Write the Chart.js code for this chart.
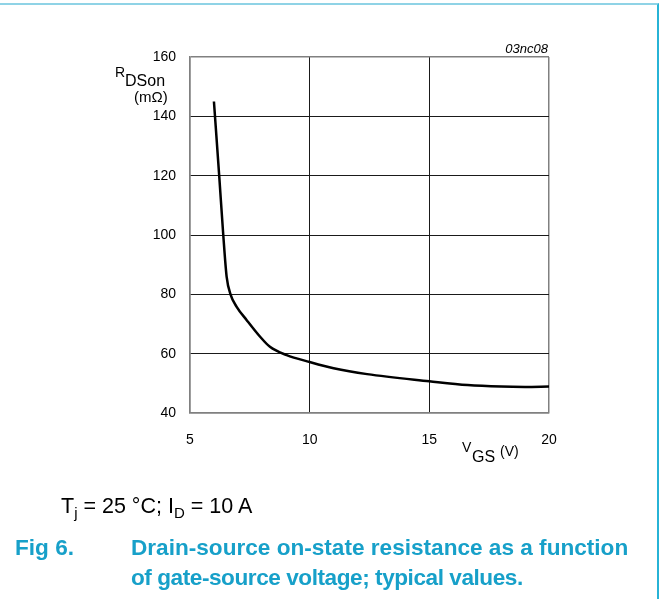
<!DOCTYPE html>
<html>
<head>
<meta charset="utf-8">
<script src="https://cdn.jsdelivr.net/npm/chart.js@4.4.1/dist/chart.umd.min.js"></script>
<style>
    html, body { margin: 0; padding: 0; background: #fff; }
    #page { position: relative; width: 662px; height: 599px; overflow: hidden; font-family: Arial, "Liberation Sans", sans-serif; }
    #frame { position: absolute; left: 0; top: 3px; width: 657px; height: 600px; border-top: 2px solid #8fd3e6; border-right: 2px solid #27b3d6; }
    #chart { position: absolute; left: 0; top: 0; }
    .cond { position: absolute; left: 61px; top: 494px; font-size: 21.5px; color: #000; white-space: nowrap; }
    .cond sub { font-size: 15px; vertical-align: -5px; line-height: 0; }
    .fig { position: absolute; font-size: 22.6px; font-weight: bold; color: #17a0c9; white-space: nowrap; line-height: 30px; }
</style>
</head>
<body>
<div id="page">
    <div id="frame"></div>
    <canvas id="chart" width="662" height="599"></canvas>
    <div class="cond">T<sub>j</sub> = 25 °C; I<sub>D</sub> = 10 A</div>
    <div class="fig" style="left:15px; top:533px">Fig 6.</div>
    <div class="fig" style="left:131px; top:533px">Drain-source on-state resistance as a function</div>
    <div class="fig" style="left:131px; top:563px; letter-spacing:-0.45px">of gate-source voltage; typical values.</div>
</div>
<script>
// Rdson en fonction de Vgs (valeurs typiques)
const vgsValues = [6.0, 6.22, 6.39, 6.53, 6.7, 6.95, 7.37, 7.93, 8.34, 9.04, 10, 11, 12.4, 15, 16.6, 18, 19, 20];
const rdsValues = [145, 120, 100, 86, 79.8, 75.8, 71.3, 65.7, 62.3, 59.5, 57.2, 55.1, 53.1, 50.7, 49.4, 48.9, 48.8, 48.9];
const xTicks = [5, 10, 15, 20];
const yTicks = [40, 60, 80, 100, 120, 140, 160];

const FONT = 'Arial, "Liberation Sans", sans-serif';
const frameColor = '#808080';
const gridColor = '#1a1a1a';

const axisLabels = {
    id: 'axisLabels',
    afterDraw(chart) {
        const ctx = chart.ctx;
        ctx.save();
        ctx.fillStyle = '#000';
        ctx.textBaseline = 'alphabetic';
        ctx.textAlign = 'left';
        ctx.font = '14px ' + FONT;
        ctx.fillText('R', 115, 77);
        ctx.font = '16px ' + FONT;
        ctx.fillText('DSon', 125, 86);
        ctx.font = '15px ' + FONT;
        ctx.fillText('(mΩ)', 134, 102);

        ctx.font = '14px ' + FONT;
        ctx.fillText('V', 462, 452);
        ctx.font = '16px ' + FONT;
        ctx.fillText('GS', 472, 462);
        ctx.font = '14px ' + FONT;
        ctx.fillText('(V)', 500, 456);

        ctx.textAlign = 'right';
        ctx.font = 'italic 13px ' + FONT;
        ctx.fillText('03nc08', 548, 53);
        ctx.restore();
    }
};

function edgeColor(ticks, index) {
    return (index === 0 || index === ticks.length - 1) ? frameColor : gridColor;
}

new Chart(document.getElementById('chart'), {
    type: 'line',
    data: {
        datasets: [{
            data: vgsValues.map((v, i) => ({ x: v, y: rdsValues[i] })),
            borderColor: '#000',
            borderWidth: 2.5,
            pointRadius: 0,
            cubicInterpolationMode: 'monotone',
            fill: false
        }]
    },
    options: {
        responsive: false,
        animation: false,
        layout: { padding: { top: 57, right: 113, bottom: 146, left: 0 } },
        plugins: { legend: { display: false }, tooltip: { enabled: false } },
        scales: {
            x: {
                type: 'linear',
                min: 5,
                max: 20,
                afterBuildTicks: scale => { scale.ticks = xTicks.map(v => ({ value: v })); },
                afterFit: scale => { scale.height = 40; },
                ticks: { color: '#000', padding: 19, font: { family: FONT, size: 14 } },
                grid: {
                    drawTicks: false,
                    lineWidth: ctx => (ctx.index === 0 || ctx.index === xTicks.length - 1) ? 1.5 : 1,
                    color: ctx => edgeColor(xTicks, ctx.index)
                },
                border: { color: frameColor, width: 1.5 }
            },
            y: {
                min: 40,
                max: 160,
                afterBuildTicks: scale => { scale.ticks = yTicks.map(v => ({ value: v })); },
                afterFit: scale => { scale.width = 190; },
                ticks: { color: '#000', padding: 14, font: { family: FONT, size: 14 } },
                grid: {
                    drawTicks: false,
                    lineWidth: ctx => (ctx.index === 0 || ctx.index === yTicks.length - 1) ? 1.5 : 1,
                    color: ctx => edgeColor(yTicks, ctx.index)
                },
                border: { color: frameColor, width: 1.5 }
            }
        }
    },
    plugins: [axisLabels]
});
</script>
</body>
</html>
